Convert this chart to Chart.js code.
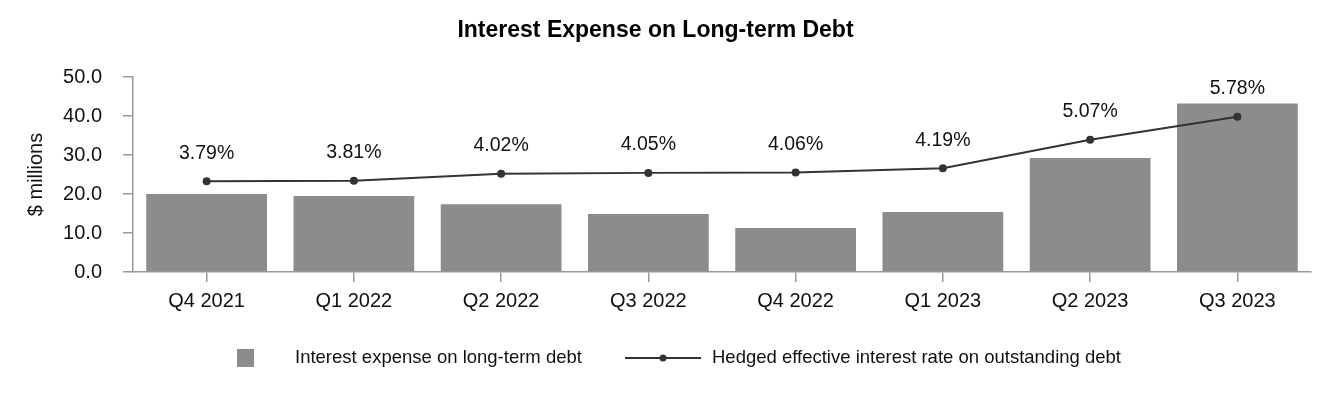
<!DOCTYPE html>
<html>
<head>
<meta charset="utf-8">
<script src="https://cdn.jsdelivr.net/npm/chart.js@4.4.1/dist/chart.umd.min.js"></script>
<style>
html,body{margin:0;padding:0;background:#fff;}
#wrap{width:1332px;height:400px;position:relative;}
</style>
</head>
<body>
<div id="wrap"><canvas id="c" width="1332" height="400"></canvas></div>
<script>
const categories = ['Q4 2021','Q1 2022','Q2 2022','Q3 2022','Q4 2022','Q1 2023','Q2 2023','Q3 2023'];
const interestExpense = [20.0, 19.5, 17.4, 14.9, 11.3, 15.4, 29.2, 43.2];
const hedgedRate = [3.79, 3.81, 4.02, 4.05, 4.06, 4.19, 5.07, 5.78];
const yTicks = [0, 10, 20, 30, 40, 50];
const seriesNames = ['Interest expense on long-term debt', 'Hedged effective interest rate on outstanding debt'];

const FONT = '"Liberation Sans", Arial, Helvetica, sans-serif';
const BAR = '#8c8c8c';
const LINE = '#333333';
const AXIS = '#999999';
const TEXT = '#111111';

const pointLabels = {
  id: 'pointLabels',
  afterDatasetsDraw(chart) {
    const ctx = chart.ctx;
    const meta = chart.getDatasetMeta(0);
    ctx.save();
    ctx.font = '19.5px ' + FONT;
    ctx.fillStyle = TEXT;
    ctx.textAlign = 'center';
    ctx.textBaseline = 'middle';
    meta.data.forEach((pt, i) => {
      ctx.fillText(hedgedRate[i].toFixed(2) + '%', pt.x, pt.y - 28);
    });
    ctx.restore();
  }
};

const customLegend = {
  id: 'customLegend',
  afterDraw(chart) {
    const ctx = chart.ctx;
    const y = 358;
    ctx.save();
    ctx.font = '18.5px ' + FONT;
    ctx.textBaseline = 'middle';
    ctx.textAlign = 'left';
    ctx.fillStyle = BAR;
    ctx.fillRect(237, y - 9, 17, 18);
    ctx.fillStyle = TEXT;
    ctx.fillText(seriesNames[0], 295, y);
    ctx.strokeStyle = LINE;
    ctx.lineWidth = 2;
    ctx.beginPath();
    ctx.moveTo(625, y);
    ctx.lineTo(701, y);
    ctx.stroke();
    ctx.fillStyle = LINE;
    ctx.beginPath();
    ctx.arc(663, y, 3.5, 0, Math.PI * 2);
    ctx.fill();
    ctx.fillStyle = TEXT;
    ctx.fillText(seriesNames[1], 712, y);
    ctx.restore();
  }
};

new Chart(document.getElementById('c'), {
  data: {
    labels: categories,
    datasets: [
      {
        type: 'line',
        label: seriesNames[1],
        data: hedgedRate,
        yAxisID: 'y1',
        borderColor: LINE,
        backgroundColor: LINE,
        borderWidth: 2,
        pointRadius: 4,
        pointBackgroundColor: LINE,
        pointBorderWidth: 0,
        tension: 0,
        order: 0
      },
      {
        type: 'bar',
        label: seriesNames[0],
        data: interestExpense,
        yAxisID: 'y',
        backgroundColor: BAR,
        borderWidth: 0,
        barPercentage: 0.82,
        categoryPercentage: 1.0,
        order: 1
      }
    ]
  },
  options: {
    responsive: false,
    animation: false,
    devicePixelRatio: 1,
    layout: { padding: { left: 0, right: 21, top: 0, bottom: 0 } },
    plugins: {
      legend: { display: false },
      tooltip: { enabled: false },
      title: {
        display: true,
        text: 'Interest Expense on Long-term Debt',
        color: '#000',
        font: { family: FONT, size: 23, weight: 'bold' },
        padding: { top: 16.5, bottom: 32.9 }
      }
    },
    scales: {
      x: {
        offset: true,
        grid: { display: true, drawOnChartArea: false, offset: false, drawTicks: true, tickLength: 10, color: AXIS, lineWidth: 1.5 },
        border: { display: true, color: AXIS, width: 1.5 },
        ticks: { color: TEXT, font: { family: FONT, size: 20 }, padding: 7, maxRotation: 0 },
        afterFit(scale) { scale.height = 128; }
      },
      y: {
        position: 'left',
        min: 0,
        max: 50,
        afterBuildTicks(scale) { scale.ticks = yTicks.map(v => ({ value: v })); },
        grid: { display: true, drawOnChartArea: false, drawTicks: true, tickLength: 10, color: AXIS, lineWidth: 1.5 },
        border: { display: true, color: AXIS, width: 1.5 },
        ticks: { color: TEXT, font: { family: FONT, size: 20 }, padding: 21, callback: v => Number(v).toFixed(1) },
        title: { display: true, text: '$ millions', color: TEXT, font: { family: FONT, size: 20 }, padding: { top: 24, bottom: 0 } },
        afterFit(scale) { scale.width = 133; }
      },
      y1: {
        display: false,
        min: 1,
        max: 7
      }
    }
  },
  plugins: [pointLabels, customLegend]
});
</script>
</body>
</html>
